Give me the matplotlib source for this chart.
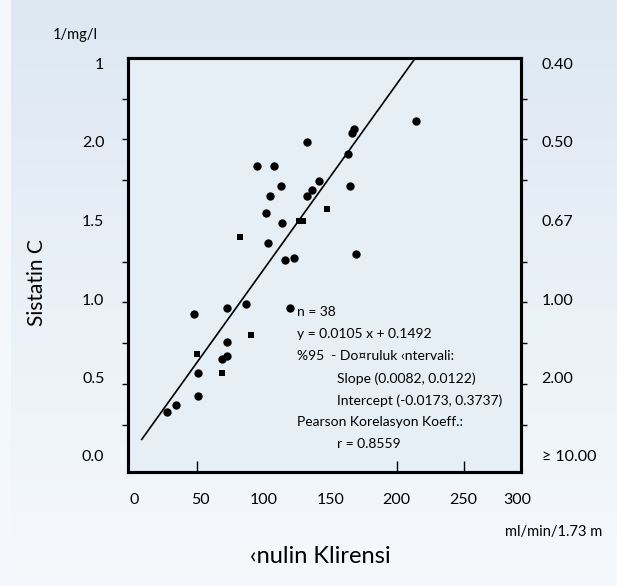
import numpy as np
import matplotlib.pyplot as plt

plt.rcParams['font.family'] = ['Lato', 'DejaVu Sans']

# filled circles (inulin clearance, 1/cystatin C)
circle_x = [132.2, 166.1, 167.6, 163.1, 94.7, 107.2, 112.9, 140.9, 135.7, 132.4,
            164.6, 104.5, 101.7, 113.4, 102.7, 115.9, 122.7, 168.7, 72.2, 86.7,
            119.4, 213.6, 47.8, 72.0, 72.0, 68.5, 50.3, 50.7, 33.8, 27.1]
circle_y = [1.983, 2.038, 2.067, 1.914, 1.838, 1.838, 1.712, 1.744, 1.689, 1.656,
            1.712, 1.656, 1.552, 1.489, 1.363, 1.260, 1.274, 1.295, 0.968, 0.989,
            0.966, 2.113, 0.930, 0.756, 0.674, 0.652, 0.566, 0.429, 0.372, 0.328]

# filled squares
square_x = [82.0, 126.2, 129.4, 146.9, 49.6, 90.2, 68.3]
square_y = [1.399, 1.503, 1.503, 1.571, 0.685, 0.801, 0.566]

# regression line as drawn
line_x = [8.4, 213.4]
line_y = [0.16, 2.5]

x_labels = ['0', '50', '100', '150', '200', '250', '300']
left_labels = ['0.0', '0.5', '1.0', '1.5', '2.0', '1']
right_labels = ['\u2265 10.00', '2.00', '1.00', '0.67', '0.50', '0.40']

stats_lines = ['n = 38',
               'y = 0.0105 x + 0.1492',
               '%95  - Do\u00a4ruluk \u2039ntervali:',
               'Slope (0.0082, 0.0122)',
               'Intercept (-0.0173, 0.3737)',
               'Pearson Korelasyon Koeff.:',
               'r = 0.8559']
stats_indent = [0, 0, 0, 1, 1, 0, 1]

W, H = 617, 586
fig = plt.figure(figsize=(W / 100, H / 100), dpi=100)
fig.patch.set_facecolor('#f4f7fb')

# light blue gradient panel (thin pale margin on the left and bottom)
bg = fig.add_axes([11 / W, 3 / H, 1 - 11 / W, 1 - 3 / H], zorder=-10)
top = np.array([221, 232, 243]) / 255
bot = np.array([246, 249, 252]) / 255
t = np.linspace(0, 1, 256)[:, None]
grad = top[None, :] * (1 - t) + bot[None, :] * t
bg.imshow(grad[:, None, :], aspect='auto', extent=[0, 1, 0, 1])
bg.axis('off')

left, right, top_px, bottom_px = 128, 520.7, 58, 472
ax = fig.add_axes([left / W, 1 - bottom_px / H, (right - left) / W, (bottom_px - top_px) / H])
ax.set_facecolor('#e6eef6')
ax.set_xlim(-1.9, 292.3)
ax.set_ylim(-0.04, 2.5)
for s in ax.spines.values():
    s.set_linewidth(2.2)

ax.plot(line_x, line_y, color='black', lw=1.2, zorder=2)
ax.scatter(circle_x, circle_y, s=36, c='black', marker='o', linewidths=0, zorder=3)
ax.scatter(square_x, square_y, s=22, c='black', marker='s', linewidths=0, zorder=3)

# x ticks: marks inside, labels placed where they sit in the original
ax.set_xticks([2.5, 52, 100, 150, 199, 249, 290])
ax.set_xticklabels(x_labels)
ax.tick_params(axis='x', which='major', length=0, pad=15, labelsize=11.5)
ax.set_xticks([50, 100, 150, 200, 250], minor=True)
ax.tick_params(axis='x', which='minor', direction='in', length=8, width=1)

ylab_pos = [0.06, 0.54, 1.02, 1.5, 1.985, 2.465]
ax.set_yticks(ylab_pos)
ax.set_yticklabels(left_labels)
ax.tick_params(axis='y', which='major', length=0, pad=17, labelsize=11.5)
ax.set_yticks(np.arange(0.25, 2.3, 0.25), minor=True)
ax.tick_params(axis='y', which='minor', direction='out', length=4, width=1)

ax2 = ax.twinx()
ax2.set_ylim(ax.get_ylim())
ax2.set_yticks(ylab_pos)
ax2.set_yticklabels(right_labels)
ax2.tick_params(axis='y', which='major', length=0, pad=15, labelsize=11.5)
ax2.set_yticks(np.arange(0.25, 2.3, 0.25), minor=True)
ax2.tick_params(axis='y', which='minor', direction='out', length=4, width=1)
for s in ax2.spines.values():
    s.set_linewidth(2.2)

# statistics text
for i, (txt, ind) in enumerate(zip(stats_lines, stats_indent)):
    ax.text(0.4296 + 0.1018 * ind, 0.386 - 0.0532 * i, txt, transform=ax.transAxes,
            ha='left', va='center', fontsize=10)

fig.text(75 / W, 1 - 35 / H, '1/mg/l', ha='center', va='center', fontsize=10.5)
fig.text(37 / W, 1 - 283 / H, 'Sistatin C', rotation=90, ha='center', va='center', fontsize=15)
fig.text(602 / W, 1 - 531.7 / H, 'ml/min/1.73 m', ha='right', va='center', fontsize=10.5)
fig.text(320 / W, 1 - 556.7 / H, '\u2039nulin Klirensi', ha='center', va='center', fontsize=17)

fig.savefig('out.png', dpi=100)
